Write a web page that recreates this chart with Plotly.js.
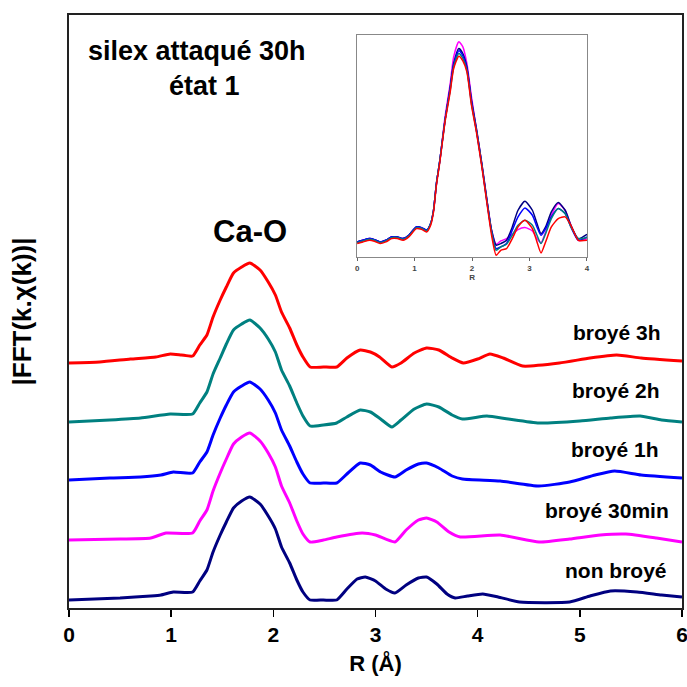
<!DOCTYPE html>
<html>
<head>
<meta charset="utf-8">
<script src="https://cdn.plot.ly/plotly-3.0.1.min.js"></script>
<style>html,body{margin:0;padding:0;background:#fff;}#chart{width:687px;height:687px;}</style>
</head>
<body>
<div id="chart"></div>
<script>
// ---- main chart data (R in Å, |FFT| in arbitrary units incl. vertical offset) ----
const seriesNames = ["broyé 3h", "broyé 2h", "broyé 1h", "broyé 30min", "non broyé"];
const seriesColors = ["#ff0000", "#008080", "#0000ff", "#ff00ff", "#000080"];
const xTickVals = [0, 1, 2, 3, 4, 5, 6];
const insetTickVals = [0, 1, 2, 3, 4];

const r3h = [0, 0.3, 0.6, 0.85, 0.99, 1.1, 1.21, 1.28, 1.35, 1.41, 1.48, 1.54, 1.61, 1.69, 1.77, 1.87, 1.95, 2.02, 2.08, 2.16, 2.23, 2.29, 2.36, 2.49, 2.62, 2.72, 2.85, 2.95, 3.04, 3.16, 3.25, 3.38, 3.5, 3.62, 3.75, 3.86, 4.0, 4.12, 4.25, 4.44, 4.8, 5.1, 5.36, 5.6, 6.0];
const y3h = [24.5, 24.6, 24.9, 25.1, 25.4, 25.3, 25.2, 26.3, 27.3, 29.1, 30.8, 32.1, 33.5, 34.1, 34.5, 33.8, 32.6, 31.3, 29.6, 28.0, 26.3, 25.1, 24.1, 24.1, 24.1, 25.0, 25.8, 25.6, 25.1, 24.1, 24.5, 25.5, 26.0, 25.8, 25.0, 24.5, 24.9, 25.4, 25.0, 24.2, 24.5, 25.0, 25.3, 25.0, 24.7];

const r2h = [0, 0.4, 0.7, 0.99, 1.21, 1.28, 1.35, 1.41, 1.48, 1.54, 1.61, 1.69, 1.77, 1.87, 1.95, 2.02, 2.08, 2.16, 2.23, 2.29, 2.36, 2.49, 2.62, 2.72, 2.85, 2.95, 3.05, 3.16, 3.25, 3.38, 3.5, 3.62, 3.75, 3.85, 4.09, 4.3, 4.6, 5.0, 5.3, 5.59, 5.8, 6.0];
const y2h = [18.6, 18.8, 19.0, 19.4, 19.4, 20.5, 21.6, 23.4, 25.0, 26.4, 27.8, 28.4, 28.8, 28.0, 26.9, 25.6, 23.8, 22.2, 20.5, 19.2, 18.2, 18.3, 18.5, 19.1, 19.8, 19.6, 18.9, 18.1, 18.8, 19.9, 20.4, 20.1, 19.3, 18.9, 19.2, 18.9, 18.5, 18.7, 19.0, 19.2, 18.8, 18.6];

const r1h = [0, 0.4, 0.7, 0.9, 1.02, 1.21, 1.28, 1.35, 1.41, 1.48, 1.54, 1.61, 1.69, 1.77, 1.87, 1.95, 2.02, 2.08, 2.16, 2.23, 2.29, 2.36, 2.49, 2.62, 2.72, 2.85, 2.95, 3.05, 3.19, 3.3, 3.42, 3.5, 3.62, 3.75, 3.85, 4.22, 4.6, 4.9, 5.15, 5.34, 5.6, 6.0];
const y1h = [12.8, 13.0, 13.1, 13.3, 13.6, 13.5, 14.6, 15.6, 17.3, 19.0, 20.3, 21.6, 22.2, 22.6, 21.9, 20.8, 19.5, 17.8, 16.2, 14.6, 13.4, 12.5, 12.5, 12.5, 13.4, 14.5, 14.3, 13.6, 13.1, 13.8, 14.4, 14.5, 14.0, 13.2, 12.9, 12.7, 12.2, 12.6, 13.3, 13.7, 13.3, 13.0];

const r30 = [0, 0.5, 0.8, 0.95, 1.21, 1.28, 1.35, 1.41, 1.48, 1.54, 1.61, 1.69, 1.77, 1.87, 1.95, 2.02, 2.08, 2.16, 2.23, 2.29, 2.36, 2.49, 2.62, 2.87, 3.0, 3.19, 3.3, 3.42, 3.5, 3.6, 3.72, 3.83, 4.22, 4.6, 4.9, 5.2, 5.45, 5.75, 6.0];
const y30 = [6.8, 6.9, 7.0, 7.5, 7.5, 8.7, 9.8, 11.7, 13.5, 14.9, 16.4, 17.1, 17.5, 16.7, 15.5, 14.1, 12.2, 10.5, 8.7, 7.4, 6.6, 6.8, 7.1, 7.5, 7.3, 6.6, 7.8, 8.8, 9.0, 8.6, 7.6, 7.1, 7.3, 6.6, 6.9, 7.3, 7.4, 7.0, 6.6];

const rNon = [0, 0.5, 0.8, 0.9, 1.02, 1.21, 1.28, 1.35, 1.41, 1.48, 1.54, 1.61, 1.69, 1.77, 1.87, 1.95, 2.02, 2.08, 2.16, 2.23, 2.29, 2.36, 2.49, 2.62, 2.72, 2.82, 2.9, 3.0, 3.1, 3.19, 3.3, 3.42, 3.5, 3.6, 3.7, 3.78, 3.9, 4.05, 4.2, 4.41, 4.9, 5.1, 5.3, 5.56, 5.8, 6.0];
const yNon = [0.8, 1.0, 1.2, 1.3, 1.6, 1.6, 2.7, 3.8, 5.6, 7.3, 8.6, 10.0, 10.7, 11.1, 10.4, 9.2, 7.9, 6.1, 4.5, 2.8, 1.6, 0.8, 0.8, 0.8, 1.9, 2.9, 3.1, 2.7, 1.9, 1.5, 2.3, 3.0, 3.1, 2.4, 1.4, 1.0, 1.2, 1.4, 1.1, 0.6, 0.6, 1.2, 1.7, 1.6, 1.3, 1.1];

// ---- inset data (R, |FFT| without offset) ----
const rIn = [0, 0.1, 0.22, 0.3, 0.4, 0.5, 0.6, 0.7, 0.8, 0.9, 1.03, 1.12, 1.21, 1.28, 1.33, 1.38, 1.44, 1.53, 1.62, 1.68, 1.77, 1.84, 1.91, 1.99, 2.08, 2.17, 2.26, 2.34, 2.42, 2.5, 2.6, 2.7, 2.8, 2.92, 3.05, 3.13, 3.2, 3.28, 3.38, 3.5, 3.62, 3.72, 3.85, 4.0];
const inNon = [4.5, 5.0, 5.5, 5.2, 4.5, 5.0, 6.0, 6.0, 5.5, 6.5, 9.0, 8.8, 8.0, 10, 14, 22, 29, 41, 51, 58, 62.5, 61, 57, 47, 38, 28, 17, 8, 3.5, 4.0, 5.0, 9.0, 14.0, 16.7, 14.0, 10.0, 7.0, 9.0, 13.5, 16.3, 14.0, 9.5, 5.5, 6.8];
const in30 = [4.5, 5.0, 5.5, 5.2, 4.5, 5.0, 6.0, 6.0, 5.5, 6.5, 9.0, 8.8, 8.0, 10, 14, 22, 29, 42, 52, 60, 64.5, 63, 58, 48, 38, 28, 17, 8, 3.8, 4.8, 5.5, 6.8, 8.2, 8.8, 7.8, 5.5, 4.2, 7.5, 12.5, 16.0, 14.0, 9.5, 5.0, 5.5];
const in1h = [4.5, 5.0, 5.5, 5.2, 4.5, 5.0, 6.0, 6.0, 5.5, 6.5, 9.0, 8.8, 8.0, 10, 14, 22, 29, 41, 50.5, 57.5, 61.8, 60.3, 56.5, 46.5, 37.5, 27.5, 16.5, 7.5, 2.5, 3.0, 4.0, 8.0, 12.0, 14.7, 12.5, 9.0, 6.5, 8.5, 12.0, 14.5, 13.0, 9.0, 5.0, 6.0];
const in2h = [4.3, 4.8, 5.3, 5.0, 4.3, 4.8, 5.8, 5.8, 5.3, 6.3, 8.8, 8.6, 7.8, 10, 14, 22, 29, 41, 50, 57, 61, 59.5, 56, 46, 37.5, 27.5, 16.5, 7.5, 2.0, 3.0, 3.8, 6.5, 9.5, 11.0, 9.5, 6.5, 4.0, 7.0, 11.5, 14.5, 13.0, 9.0, 5.5, 5.8];
const in3h = [4.0, 4.5, 5.0, 4.7, 4.0, 4.5, 5.5, 5.5, 5.0, 6.0, 8.5, 8.3, 7.5, 9.5, 13.5, 21.5, 28.5, 40.5, 49.5, 56.5, 60.2, 58.8, 55.5, 45.5, 37, 27, 16, 6.5, 0.5, 2.0, 2.5, 5.5, 9.0, 11.0, 8.5, 4.5, 1.2, 4.5, 9.0, 11.5, 12.0, 9.5, 5.0, 5.0];

const mainR = [r3h, r2h, r1h, r30, rNon];
const mainY = [y3h, y2h, y1h, y30, yNon];
const insetY = [in3h, in2h, in1h, in30, inNon];

const traces = [];
for (let i = 0; i < seriesNames.length; i++) {
  traces.push({
    x: mainR[i], y: mainY[i], type: 'scatter', mode: 'lines', name: seriesNames[i],
    line: {color: seriesColors[i], width: 3, shape: 'spline', smoothing: 0.5}, showlegend: false, hoverinfo: 'skip'
  });
}
const insetOrder = [3, 4, 2, 1, 0];
for (const i of insetOrder) {
  traces.push({
    x: rIn, y: insetY[i], type: 'scatter', mode: 'lines', name: seriesNames[i] + ' (inset)',
    xaxis: 'x2', yaxis: 'y2', line: {color: seriesColors[i], width: 1.5, shape: 'spline', smoothing: 0.6}, showlegend: false, hoverinfo: 'skip'
  });
}

const boldFont = (size, color) => ({family: 'Arial, "Liberation Sans", sans-serif', size: size, color: color || '#000', weight: 700});

const annotations = [
  {text: 'silex attaqué 30h', x: 1.25, y: 55.7, font: boldFont(27)},
  {text: 'état 1', x: 1.33, y: 52.2, font: boldFont(27)},
  {text: 'Ca-O', x: 1.77, y: 37.7, font: boldFont(31)},
  {text: seriesNames[0], x: 5.36, y: 27.6, font: boldFont(21)},
  {text: seriesNames[1], x: 5.35, y: 21.8, font: boldFont(21)},
  {text: seriesNames[2], x: 5.34, y: 15.9, font: boldFont(21)},
  {text: seriesNames[3], x: 5.27, y: 9.8, font: boldFont(21)},
  {text: seriesNames[4], x: 5.35, y: 3.8, font: boldFont(21)}
].map(a => Object.assign({xref: 'x', yref: 'y', showarrow: false, xanchor: 'center', yanchor: 'middle'}, a));

const layout = {
  width: 687, height: 687,
  margin: {l: 69, r: 5, t: 15, b: 79},
  paper_bgcolor: '#fff', plot_bgcolor: '#fff',
  showlegend: false,
  xaxis: {
    range: [0, 6], domain: [0, 1], tickvals: xTickVals,
    ticks: 'outside', ticklen: 7, tickwidth: 1.5, tickcolor: '#000',
    showline: true, linecolor: '#222', linewidth: 2, mirror: true,
    showgrid: false, zeroline: false, ticklabeloverflow: 'allow',
    tickfont: boldFont(21),
    title: {text: 'R (Å)', font: boldFont(22), standoff: 10}
  },
  yaxis: {
    range: [0, 59.3], domain: [0, 1],
    showticklabels: false, ticks: '',
    showline: true, linecolor: '#222', linewidth: 2, mirror: true,
    showgrid: false, zeroline: false,
    title: {text: '|FFT(k.χ(k))|', font: boldFont(26), standoff: 28}
  },
  xaxis2: {
    anchor: 'y2', domain: [0.470, 0.845], range: [0, 4], tickvals: insetTickVals,
    ticks: 'outside', ticklen: 3, tickcolor: '#666',
    showline: true, linecolor: '#888', linewidth: 1, mirror: true,
    showgrid: false, zeroline: false,
    tickfont: boldFont(8, '#444'),
    title: {text: 'R', font: boldFont(8, '#444'), standoff: 2}
  },
  yaxis2: {
    anchor: 'x2', domain: [0.592, 0.966], range: [0, 66.5],
    showticklabels: false, ticks: '',
    showline: true, linecolor: '#888', linewidth: 1, mirror: true,
    showgrid: false, zeroline: false
  },
  annotations: annotations
};

Plotly.newPlot('chart', traces, layout, {displayModeBar: false, staticPlot: true});
</script>
</body>
</html>
